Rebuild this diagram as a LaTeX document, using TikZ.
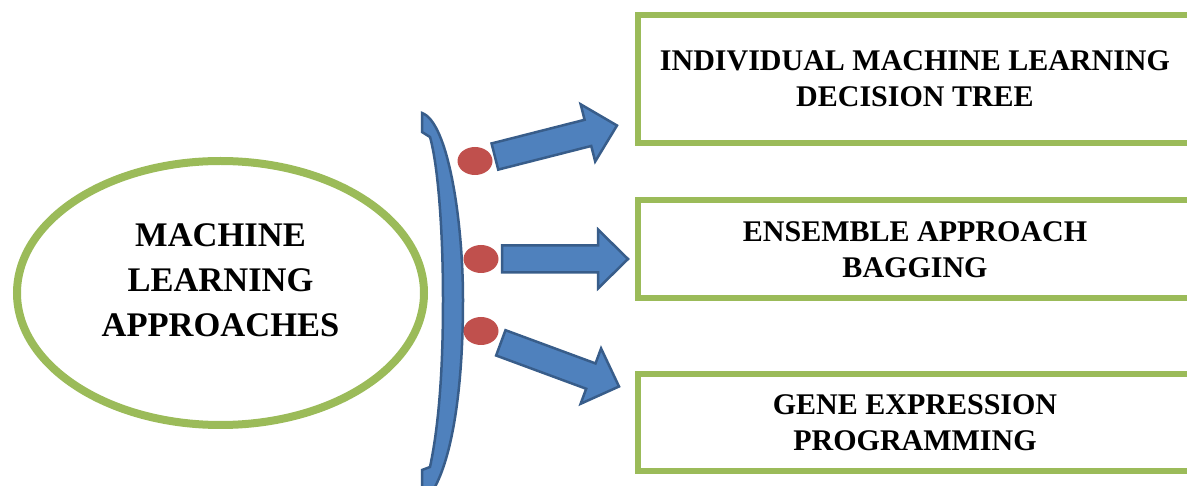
\documentclass[tikz,border=0pt]{standalone}
\usepackage{fontspec}
\setmainfont{Liberation Serif}
\usetikzlibrary{shapes.geometric}
\definecolor{mlgreen}{HTML}{9BBB59}
\definecolor{mlblue}{HTML}{4F81BD}
\definecolor{mlbluedark}{HTML}{385D8A}
\definecolor{mlred}{HTML}{C0504D}
\newlength{\arrowlen}
\tikzset{
  mlell/.style={ellipse, draw=mlgreen, line width=8pt, minimum width=407pt, minimum height=264pt, inner sep=0pt},
  mltext/.style={align=center, inner sep=0pt, font=\fontsize{34.5}{45}\selectfont\bfseries},
  mlbox/.style={rectangle, draw=mlgreen, line width=6pt, minimum width=554pt, inner sep=0pt, align=center, font=\fontsize{30}{36}\selectfont\bfseries},
  mldot/.style={ellipse, fill=mlred, minimum width=35pt, minimum height=28pt, inner sep=0pt},
  mlshape/.style={fill=mlblue, draw=mlbluedark, line width=2.5pt, line join=miter},
  blockarrow/.pic={
    \path[mlshape] (0,0) -- (-30,-29.5) -- (-30,-13.5) -- (-\arrowlen,-13.5)
      -- (-\arrowlen,13.5) -- (-30,13.5) -- (-30,29.5) -- cycle;
  }
}
\begin{document}
\begin{tikzpicture}[x=1pt,y=-1pt]
\useasboundingbox (0,0) rectangle (1187,486);
\clip (0,0) rectangle (1187,486);
% main ellipse
\node[mlell] (ml) at (220.5,293) {};
\node[mltext] (mlt) at (220.5,280) {MACHINE\\LEARNING\\APPROACHES};
% bracket
\path[mlshape] (422,113) .. controls (448,122) and (463,220) .. (463,300)
  .. controls (463,390) and (452,460) .. (432,492) -- (422,492) -- (422,470) -- (430,467)
  .. controls (440,420) and (443,360) .. (443,300)
  .. controls (443,230) and (438,165) .. (430,137) -- (422,132) -- cycle;
% dots
\node[mldot] (d1) at (475,161) {};
\node[mldot] (d2) at (481,259) {};
\node[mldot] (d3) at (481,331) {};
% boxes
\node[mlbox, minimum height=128pt] (b1) at (915,79) {INDIVIDUAL MACHINE LEARNING\\DECISION TREE};
\node[mlbox, minimum height=98pt] (b2) at (915,249.5) {ENSEMBLE APPROACH\\BAGGING};
\node[mlbox, minimum height=97pt] (b3) at (915,422.5) {GENE EXPRESSION\\PROGRAMMING};
% arrows (tip coordinates)
\coordinate (t1) at (617,125.5);
\coordinate (t2) at (628,259);
\coordinate (t3) at (619,386.5);
\setlength{\arrowlen}{126pt}
\pic[rotate=14.26] at (t1) {blockarrow};
\pic at (t2) {blockarrow};
\pic[rotate=-20.27] at (t3) {blockarrow};
\end{tikzpicture}
\end{document}
